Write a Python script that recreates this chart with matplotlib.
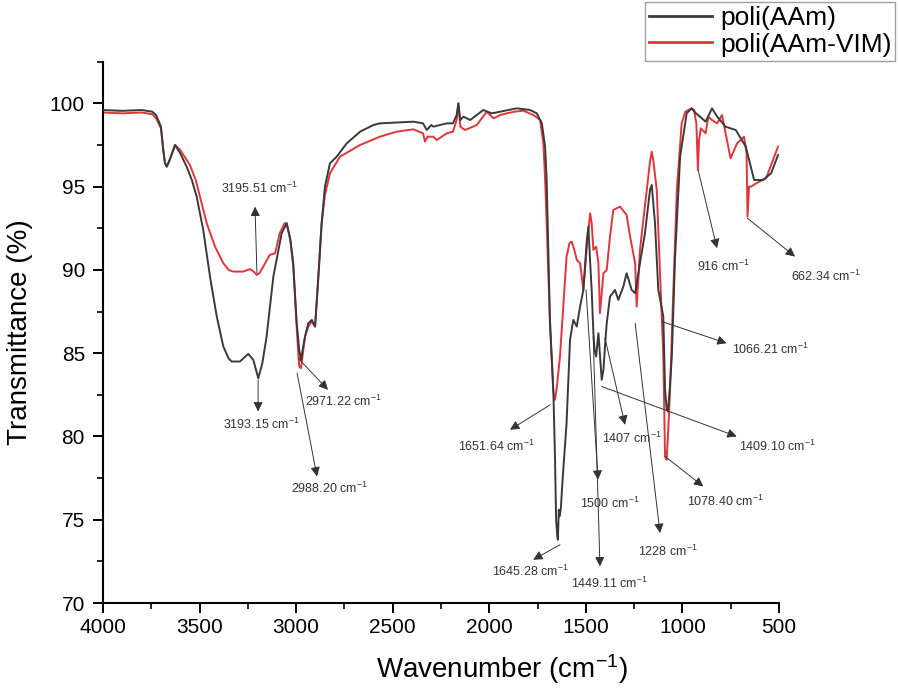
import matplotlib
matplotlib.use('Agg')
import matplotlib.pyplot as plt
from matplotlib.ticker import MultipleLocator

plt.rcParams['font.family'] = ['Liberation Sans', 'DejaVu Sans']
plt.rcParams['mathtext.fontset'] = 'custom'
plt.rcParams['mathtext.rm'] = 'Liberation Sans'
plt.rcParams['mathtext.it'] = 'Liberation Sans:italic'

# poli(AAm) spectrum
aam_wn = [4000, 3900, 3800, 3745, 3725, 3700, 3688, 3679, 3670, 3655, 3627, 3600, 3567, 3540,
          3515, 3481, 3446, 3411, 3377, 3350, 3334, 3291, 3248, 3222, 3196, 3175, 3153, 3118,
          3075, 3049, 3030, 3015, 2997, 2984, 2975, 2965, 2954, 2937, 2919, 2902, 2885, 2868,
          2851, 2825, 2790, 2738, 2669, 2600, 2566, 2480, 2393, 2343, 2324, 2300, 2290, 2220,
          2188, 2169, 2160, 2150, 2134, 2099, 2065, 2031, 1987, 1944, 1900, 1858, 1820, 1789,
          1754, 1728, 1711, 1703, 1686, 1668, 1660, 1654, 1648, 1645, 1640, 1637, 1630, 1620,
          1600, 1582, 1565, 1547, 1530, 1513, 1495, 1487, 1478, 1470, 1461, 1455, 1447, 1435,
          1425, 1418, 1409, 1400, 1392, 1375, 1349, 1332, 1306, 1289, 1263, 1245, 1220, 1194,
          1168, 1159, 1142, 1125, 1099, 1090, 1081, 1075, 1065, 1055, 1038, 1012, 978, 953,
          930, 909, 880, 847, 820, 777, 724, 672, 629, 583, 541, 505]
aam_t = [99.6, 99.55, 99.6, 99.5, 99.3, 98.6, 97.2, 96.4, 96.2, 96.6, 97.5, 97.0, 96.2, 95.4,
         94.4, 92.4, 89.6, 87.2, 85.4, 84.7, 84.5, 84.5, 84.96, 84.6, 83.5, 84.4, 86.0, 89.6,
         92.2, 92.8, 91.8, 90.4, 86.8, 85.2, 84.6, 85.3, 86.0, 86.8, 87.0, 86.6, 89.6, 92.8,
         95.0, 96.4, 96.8, 97.6, 98.3, 98.7, 98.8, 98.85, 98.9, 98.8, 98.4, 98.7, 98.6, 98.8,
         98.8, 99.3, 100.0, 99.0, 99.2, 99.0, 99.3, 99.6, 99.4, 99.5, 99.6, 99.7, 99.65, 99.6,
         99.4, 98.8, 97.4, 95.4, 87.0, 82.6, 78.8, 75.0, 74.0, 73.8, 75.6, 75.2, 75.6, 77.5,
         80.8, 85.8, 87.0, 86.6, 87.8, 88.8, 91.8, 92.6, 90.5, 88.8, 86.2, 85.2, 84.8, 86.2,
         84.5, 83.4, 84.0, 85.6, 86.8, 88.4, 88.8, 88.2, 89.0, 89.8, 88.8, 88.6, 90.4, 92.2,
         94.8, 95.1, 92.8, 88.8, 87.2, 82.8, 81.6, 81.5, 83.0, 84.8, 90.8, 96.8, 99.4, 99.7,
         99.4, 99.2, 98.9, 99.7, 99.2, 98.6, 98.4, 97.4, 95.4, 95.4, 95.8, 96.9]

# poli(AAm-VIM) spectrum
vim_wn = [4000, 3900, 3800, 3745, 3725, 3700, 3688, 3679, 3670, 3655, 3627, 3600, 3567, 3550,
          3520, 3498, 3463, 3420, 3377, 3350, 3325, 3274, 3239, 3220, 3204, 3190, 3170, 3137,
          3109, 3085, 3060, 3049, 3030, 3015, 2997, 2989, 2984, 2975, 2965, 2954, 2937, 2919,
          2902, 2885, 2868, 2851, 2825, 2773, 2669, 2566, 2480, 2393, 2343, 2333, 2320, 2290,
          2272, 2220, 2188, 2169, 2160, 2150, 2126, 2065, 2013, 1978, 1944, 1910, 1870, 1824,
          1771, 1737, 1720, 1711, 1703, 1686, 1668, 1660, 1650, 1634, 1617, 1600, 1585, 1573,
          1560, 1547, 1530, 1513, 1495, 1478, 1470, 1461, 1447, 1435, 1427, 1418, 1409, 1392,
          1375, 1358, 1323, 1289, 1271, 1245, 1237, 1228, 1220, 1185, 1168, 1159, 1150, 1133,
          1116, 1099, 1090, 1082, 1075, 1064, 1047, 1029, 1004, 985, 953, 940, 928, 920, 914,
          905, 880, 866, 847, 820, 795, 751, 717, 681, 668, 663, 655, 645, 618, 567, 505]
vim_t = [99.45, 99.4, 99.45, 99.35, 99.1, 98.5, 97.2, 96.4, 96.2, 96.6, 97.5, 97.2, 96.6, 96.3,
         95.4, 94.4, 92.8, 91.4, 90.4, 90.0, 89.9, 89.9, 90.05, 89.9, 89.7, 89.8, 90.2, 90.9,
         91.0, 92.2, 92.8, 92.8, 91.8, 90.2, 86.5, 85.0, 84.2, 84.1, 85.0, 86.0, 86.6, 86.9,
         86.6, 89.6, 92.8, 94.5, 95.8, 96.8, 97.5, 98.0, 98.3, 98.44, 98.2, 97.7, 98.0, 98.0,
         97.8, 98.2, 98.3, 99.0, 100.0, 98.6, 98.4, 98.7, 99.5, 99.1, 99.3, 99.4, 99.5, 99.56,
         99.3, 99.0, 97.6, 95.4, 92.8, 86.8, 82.6, 82.2, 83.0, 84.8, 87.8, 90.8, 91.6, 91.7,
         91.2, 90.6, 90.4, 88.8, 91.4, 93.4, 92.8, 91.2, 91.4, 90.4, 87.4, 88.6, 89.8, 90.0,
         92.0, 93.6, 93.8, 93.3, 92.0, 90.4, 87.8, 89.5, 91.2, 94.8, 96.5, 97.1, 96.5, 94.8,
         89.8, 84.8, 78.8, 78.6, 80.0, 82.8, 88.8, 94.8, 98.8, 99.5, 99.7, 99.6, 98.8, 96.0, 97.8,
         98.5, 98.2, 99.2, 99.0, 98.8, 99.3, 96.7, 97.6, 98.0, 97.0, 93.2, 95.0, 95.0, 95.2, 95.5, 97.4]

# peak labels: text, curve point, arrow head, label centre
peak_labels = ['3195.51', '3193.15', '2971.22', '2988.20', '1651.64', '1645.28', '1066.21',
               '1407', '1409.10', '1078.40', '1500', '1449.11', '1228', '916', '662.34']
peak_points = [(3203, 89.8), (3197, 83.4), (2990, 84.7), (2995, 83.8), (1685, 81.9),
               (1634, 73.5), (1107, 86.9), (1401, 85.9), (1418, 83.0), (1090, 78.8),
               (1499, 88.8), (1462, 86.0), (1245, 86.8), (919, 96.0), (663, 93.1)]
arrow_heads = [(3213, 93.8), (3197, 81.5), (2835, 82.8), (2892, 77.6), (1893, 80.4),
               (1773, 72.6), (771, 85.6), (1297, 80.7), (719, 80.0), (892, 77.0),
               (1437, 77.4), (1427, 72.2), (1116, 74.2), (821, 91.3), (417, 90.8)]
label_pos = [(3187, 94.9), (3177, 80.7), (2757, 82.1), (2825, 76.9), (1960, 79.4),
             (1789, 71.9), (546, 85.2), (1261, 79.9), (510, 79.4), (779, 76.1),
             (1375, 76.0), (1375, 71.2), (1074, 73.1), (790, 90.2), (256, 89.6)]

fig = plt.figure(figsize=(8.98, 6.99), dpi=100)
ax = fig.add_axes([0.1147, 0.1373, 0.7528, 0.7744])

ax.plot(aam_wn, aam_t, color='#3a3a3a', lw=1.4, label='poli(AAm)', zorder=3)
ax.plot(vim_wn, vim_t, color='#e0353a', lw=1.4, label='poli(AAm-VIM)', zorder=2)

for lab, p, h, t in zip(peak_labels, peak_points, arrow_heads, label_pos):
    ax.annotate('', xy=h, xytext=p, annotation_clip=False,
                arrowprops=dict(arrowstyle='-|>', color='#333333', lw=0.7,
                                mutation_scale=14, shrinkA=0, shrinkB=0))
    ax.text(t[0], t[1], lab + r' cm$^{-1}$', fontsize=9, color='#333333',
            ha='center', va='center', clip_on=False)

ax.set_xlim(4000, 500)
ax.set_ylim(70, 102.5)
ax.set_xticks(range(4000, 499, -500))
ax.set_yticks(range(70, 101, 5))
ax.xaxis.set_minor_locator(MultipleLocator(250))
ax.yaxis.set_minor_locator(MultipleLocator(2.5))
ax.tick_params(which='major', direction='out', length=7, width=1.4, labelsize=15, pad=4)
ax.tick_params(which='minor', direction='out', length=4, width=1.2)
ax.tick_params(axis='y', which='major', pad=6)

for s in ['top', 'right']:
    ax.spines[s].set_visible(False)
for s in ['left', 'bottom']:
    ax.spines[s].set_linewidth(1.5)

ax.set_xlabel(r'Wavenumber (cm$^{-1}$)', fontsize=20)
ax.set_ylabel('Transmittance (%)', fontsize=20)
ax.xaxis.set_label_coords(0.59, -0.09)
ax.yaxis.set_label_coords(-0.104, 0.5)

leg = ax.legend(loc='upper right', bbox_to_anchor=(0.997, 0.997),
                bbox_transform=fig.transFigure, fontsize=19, frameon=True,
                fancybox=False, edgecolor='#888888', handlelength=2.4,
                handletextpad=0.3, borderpad=0.15, labelspacing=0.1, borderaxespad=0)
leg.get_frame().set_linewidth(1.0)
for line in leg.get_lines():
    line.set_linewidth(2.0)

plt.savefig('out.png', dpi=100)
